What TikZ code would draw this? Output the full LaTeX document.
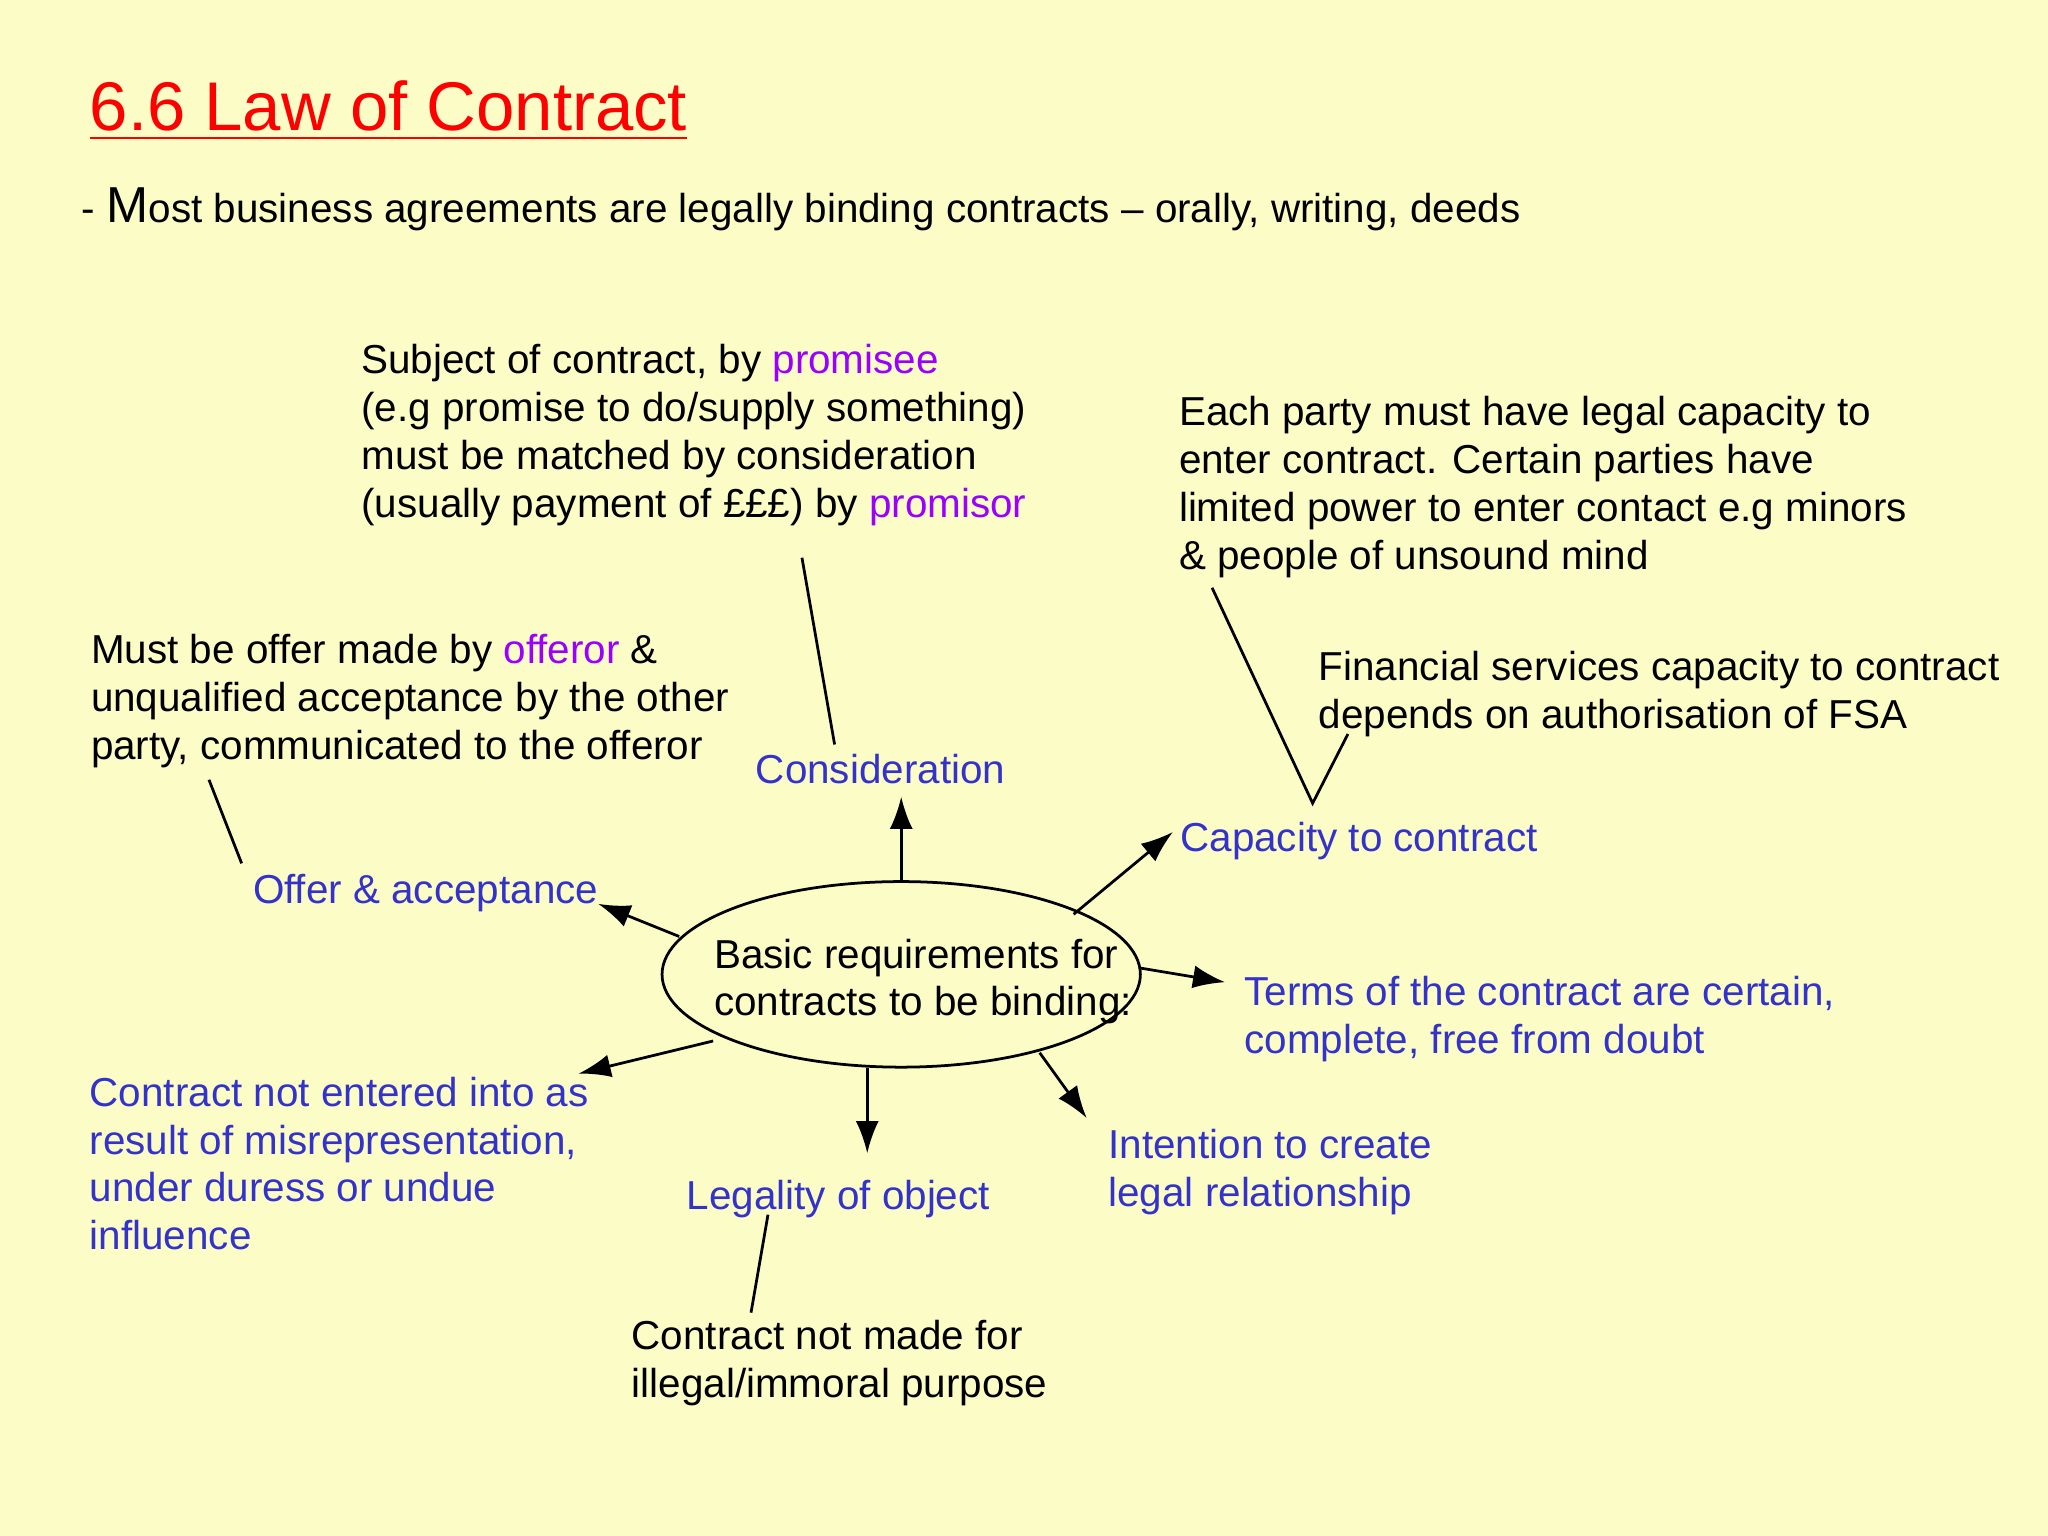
\documentclass[tikz,border=0pt]{standalone}
\usepackage{fontspec}
\setmainfont{Liberation Sans}
\usetikzlibrary{shapes.geometric,arrows.meta}
\definecolor{bg}{RGB}{252,252,198}
\definecolor{tblue}{RGB}{51,51,204}
\definecolor{tpurp}{RGB}{153,0,255}
\definecolor{tred}{RGB}{255,0,0}
\begin{document}
\begin{tikzpicture}[x=0.01cm,y=-0.01cm,
  txt/.style={anchor=north west,inner sep=0pt,align=left,font=\fontsize{8.8pt}{10.4pt}\selectfont},
  bl/.style={txt,text=tblue},
  arr/.style={-{Latex[length=7pt,width=5pt]},line width=0.6pt},
  ln/.style={line width=0.6pt}]
\fill[bg] (0,0) rectangle (1568,1176);
\useasboundingbox (0,0) rectangle (1568,1176);
\node[anchor=base west,inner sep=0pt,text=tred,font=\fontsize{15pt}{18pt}\selectfont] (title) at (68,100) {\underline{6.6 Law of Contract}};
\node[anchor=base west,inner sep=0pt,font=\fontsize{8.8pt}{10.4pt}\selectfont] (sub) at (62,170) {- {\fontsize{11pt}{12pt}\selectfont M}ost business agreements are legally binding contracts -- orally, writing, deeds};
\node[draw,ellipse,line width=0.6pt,minimum width=3.66cm,minimum height=1.42cm,inner sep=0pt] (c) at (690,746) {};
\node[txt] (ct) at (546,718) {Basic requirements for\\contracts to be binding:};
\node[txt] (subj) at (276,263) {Subject of contract, by \textcolor{tpurp}{promisee}\\(e.g promise to do/supply something)\\must be matched by consideration\\(usually payment of £££) by \textcolor{tpurp}{promisor}};
\node[txt] (each) at (902,303) {Each party must have legal capacity to\\enter contract. Certain parties have\\limited power to enter contact e.g minors\\\& people of unsound mind};
\node[txt] (must) at (69,485) {Must be offer made by \textcolor{tpurp}{offeror} \&\\unqualified acceptance by the other\\party, communicated to the offeror};
\node[txt] (fin) at (1009,498) {Financial services capacity to contract\\depends on authorisation of FSA};
\node[bl] (cons) at (578,577) {Consideration};
\node[bl] (cap) at (903,629) {Capacity to contract};
\node[bl] (offer) at (193,669) {Offer \& acceptance};
\node[bl] (terms) at (952,747) {Terms of the contract are certain,\\complete, free from doubt};
\node[bl] (mis) at (68,824) {Contract not entered into as\\result of misrepresentation,\\under duress or undue\\influence};
\node[bl] (int) at (848,864) {Intention to create\\legal relationship};
\node[bl] (leg) at (525,903) {Legality of object};
\node[txt] (ill) at (483,1010) {Contract not made for\\illegal/immoral purpose};
\coordinate (a1) at (690,675); \coordinate (b1) at (690,610);
\coordinate (a2) at (520,717); \coordinate (b2) at (458,692);
\coordinate (a3) at (822,700); \coordinate (b3) at (898,637);
\coordinate (a4) at (872,741); \coordinate (b4) at (938,752);
\coordinate (a5) at (796,806); \coordinate (b5) at (832,856);
\coordinate (a6) at (664,818); \coordinate (b6) at (664,883);
\coordinate (a7) at (546,797); \coordinate (b7) at (443,822);
\foreach \i in {1,...,7} \draw[arr] (a\i) -- (b\i);
\coordinate (l1) at (614,427); \coordinate (m1) at (639,570);
\coordinate (l2) at (160,597); \coordinate (m2) at (185,661);
\coordinate (l3) at (928,450); \coordinate (m3) at (1005,615); \coordinate (n3) at (1032,562);
\coordinate (l4) at (588,930); \coordinate (m4) at (575,1005);
\draw[ln] (l1) -- (m1);
\draw[ln] (l2) -- (m2);
\draw[ln] (l3) -- (m3) -- (n3);
\draw[ln] (l4) -- (m4);
\end{tikzpicture}
\end{document}
